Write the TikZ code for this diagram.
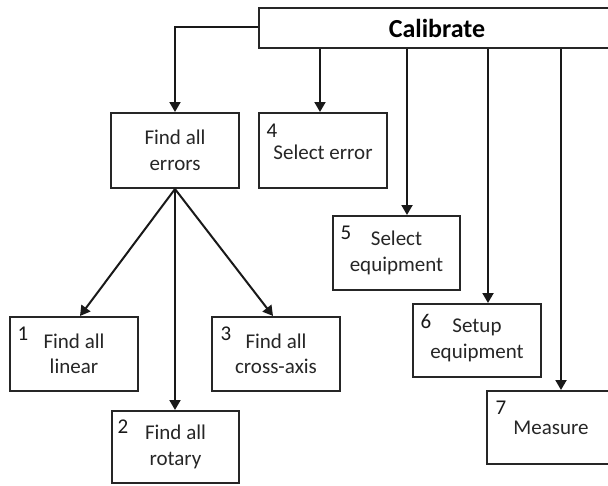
\documentclass[tikz,border=0pt]{standalone}
\usepackage{fontspec}
\setmainfont{Carlito}
\usetikzlibrary{arrows.meta,calc}
\begin{document}
\begin{tikzpicture}[x=1pt,y=-1pt,
  box/.style={draw=black!85,line width=2pt,minimum width=128pt,minimum height=74pt,inner sep=0pt,align=center,font=\fontsize{21}{25.5}\selectfont,text=black!85},
  num/.style={inner sep=0pt,font=\fontsize{21}{24}\selectfont,text=black!90},
  arr/.style={line width=2pt,draw=black!90,-{Triangle[length=10pt,width=11pt]}},
  lin/.style={line width=2pt,draw=black!90}]
\useasboundingbox (0,0) rectangle (608,485);
\begin{scope}
\clip (0,0) rectangle (608,485);
\node[box,minimum width=356pt,minimum height=40pt,font=\bfseries\fontsize{26}{30}\selectfont,text=black] (cal) at (437,28) {Calibrate};
\node[box,minimum height=75pt] (err) at (175,150.5) {Find all\\errors};
\node[box,minimum height=75pt] (sel) at (323,150.5) {\\[-7pt]Select error};
\node[box] (lin1) at (74,354) {Find all\\linear};
\node[box] (cross) at (276,354) {Find all\\cross-axis};
\node[box,minimum width=127pt,minimum height=72pt] (rot) at (175.5,447) {Find all\\rotary};
\node[box,minimum width=127pt] (eq5) at (396.5,253) {Select\\equipment};
\node[box,minimum height=73pt] (eq6) at (477,340.5) {Setup\\equipment};
\node[box,minimum height=73pt] (meas) at (551,427.5) {Measure};
\end{scope}
\node[num] (n1) at ([shift={(14,18)}]lin1.north west) {1};
\node[num] (n2) at ([shift={(12,17)}]rot.north west) {2};
\node[num] (n3) at ([shift={(15,18)}]cross.north west) {3};
\node[num] (n4) at ([shift={(14,19)}]sel.north west) {4};
\node[num] (n5) at ([shift={(14,18)}]eq5.north west) {5};
\node[num] (n6) at ([shift={(14,18)}]eq6.north west) {6};
\node[num] (n7) at ([shift={(15,18)}]meas.north west) {7};
% connectors
\draw[arr] ([yshift=1pt]cal.west) -| (err.north);
\draw[arr] ([xshift=-3pt]sel.north |- cal.south) -- ([xshift=-3pt]sel.north);
\draw[arr] ([xshift=10.5pt]eq5.north |- cal.south) -- ([xshift=10.5pt]eq5.north);
\draw[arr] ([xshift=11pt]eq6.north |- cal.south) -- ([xshift=11pt]eq6.north);
\draw[arr] ([xshift=10pt]meas.north |- cal.south) -- ([xshift=10pt]meas.north);
\draw[arr] (err.south) -- ([xshift=6pt]lin1.north);
\draw[arr] (err.south) -- (rot.north -| err.south);
\draw[arr] (err.south) -- ([xshift=-3pt]cross.north);
\end{tikzpicture}
\end{document}
